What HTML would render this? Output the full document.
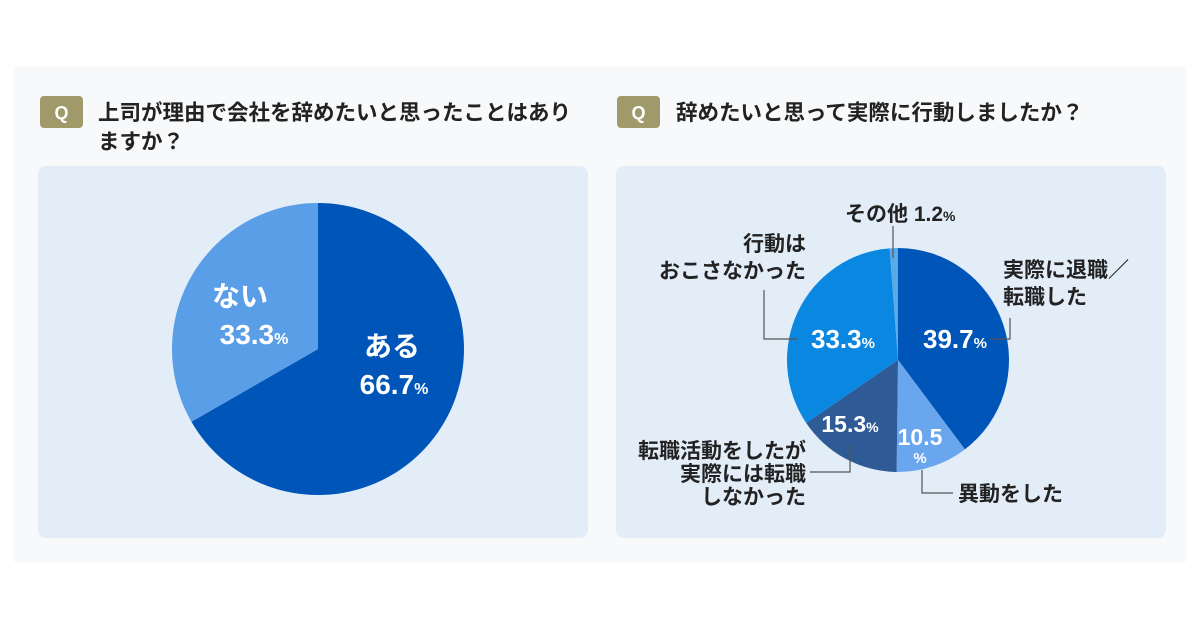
<!DOCTYPE html>
<html><head><meta charset="utf-8"><style>
body{margin:0;width:1200px;height:630px;background:#fff;overflow:hidden;font-family:"Liberation Sans","Noto Sans CJK JP",sans-serif;}
</style></head><body>
<svg width="1200" height="630" xmlns="http://www.w3.org/2000/svg" font-family="Liberation Sans, Noto Sans CJK JP, sans-serif">
<rect x="14" y="66" width="1172" height="496" fill="#f8f9fa"/>
<rect x="40" y="96" width="43" height="32" rx="4" fill="#a09a6a"/>
<text x="61.5" y="119" text-anchor="middle" fill="#fff" font-weight="bold" font-size="18">Q</text>
<text font-size="21.5" font-weight="bold" fill="#222"><tspan x="98" y="120">上司が理由で会社を辞めたいと思ったことはあり</tspan><tspan x="98" y="149">ますか？</tspan></text>
<rect x="617" y="96" width="43" height="32" rx="4" fill="#a09a6a"/>
<text x="638.5" y="119" text-anchor="middle" fill="#fff" font-weight="bold" font-size="18">Q</text>
<text x="676" y="120" font-size="21.5" font-weight="bold" fill="#222">辞めたいと思って実際に行動しましたか？</text>
<rect x="38" y="166" width="550" height="372" rx="8" fill="#e3edf8"/>
<rect x="616" y="166" width="550" height="372" rx="8" fill="#e3edf8"/>
<g id="pieL"></g>
<g id="pieR"></g>
<g fill="#fff" font-weight="bold" text-anchor="middle">
<text x="240" y="306" font-size="28">ない</text>
<text x="254" y="344" font-size="28">33.3<tspan font-size="16">%</tspan></text>
<text x="392" y="356" font-size="28">ある</text>
<text x="394" y="394" font-size="28">66.7<tspan font-size="16">%</tspan></text>
<text x="843" y="348" font-size="26">33.3<tspan font-size="15">%</tspan></text>
<text x="955" y="348" font-size="26">39.7<tspan font-size="15">%</tspan></text>
<text x="850" y="432" font-size="23">15.3<tspan font-size="14">%</tspan></text>
<text x="920" y="445" font-size="23">10.5</text>
<text x="920" y="463" font-size="15">%</text>
</g>
<g fill="none" stroke="#555" stroke-width="1.2">
<polyline points="764,290 764,339 797,339"/>
<polyline points="990,339 1010,339 1010,318"/>
<polyline points="922,470 922,493 953,493"/>
<polyline points="850,445 850,472 810,472"/>
<line x1="893" y1="226" x2="893" y2="258"/>
</g>
<g font-size="21" font-weight="bold" fill="#222">
<text x="845" y="221">その他 1.2<tspan font-size="14">%</tspan></text>
<text x="806" y="251" text-anchor="end">行動は</text>
<text x="806" y="278" text-anchor="end">おこさなかった</text>
<text x="1003" y="277">実際に退職／</text>
<text x="1003" y="304">転職した</text>
<text x="958" y="501">異動をした</text>
<text x="806" y="458" text-anchor="end">転職活動をしたが</text>
<text x="806" y="481" text-anchor="end">実際には転職</text>
<text x="806" y="504" text-anchor="end">しなかった</text>
</g>
</svg>
<script>
const catsL=["ある","ない"];
const valsL=[66.7,33.3];
const colsL=["#0055b8","#5b9ee8"];
const catsR=["実際に退職／転職した","異動をした","転職活動をしたが実際には転職しなかった","行動はおこさなかった","その他"];
const valsR=[39.7,10.5,15.3,33.3,1.2];
const colsR=["#0055b8","#6aa6ee","#2e5a96","#0a87e0","#5aaae8"];
function pie(g,cats,vals,cols,cx,cy,rx,ry,name){
  const ns="http://www.w3.org/2000/svg";const tot=vals.reduce((a,b)=>a+b,0);let a0=0;
  vals.forEach((v,i)=>{const a1=a0+v/tot*2*Math.PI;
    const x0=cx+rx*Math.sin(a0),y0=cy-ry*Math.cos(a0),x1=cx+rx*Math.sin(a1),y1=cy-ry*Math.cos(a1);
    const p=document.createElementNS(ns,"path");
    p.setAttribute("d",`M${cx},${cy}L${x0},${y0}A${rx},${ry} 0 ${a1-a0>Math.PI?1:0} 1 ${x1},${y1}Z`);
    p.setAttribute("fill",cols[i]);
    
    
    g.appendChild(p);a0=a1;});
}
pie(document.getElementById("pieL"),catsL,valsL,colsL,318,349,146,146,"left-pie");
pie(document.getElementById("pieR"),catsR,valsR,colsR,898,360,111,112,"right-pie");
</script>
</body></html>
